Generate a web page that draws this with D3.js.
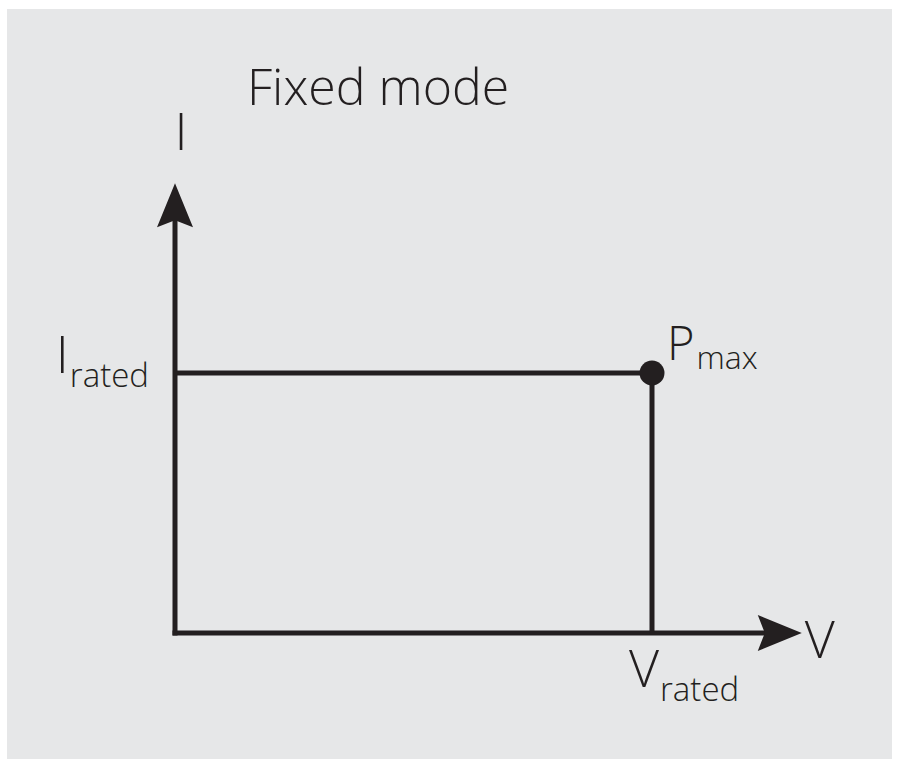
<!DOCTYPE html>
<html>
<head>
<meta charset="utf-8">
<script src="https://cdn.jsdelivr.net/npm/d3@7"></script>
<style>
    html, body { margin: 0; padding: 0; background: #ffffff; }
    text { font-family: "Open Sans", "Liberation Sans", sans-serif; font-weight: 300; fill: #231f20; }
</style>
</head>
<body>
<svg id="chart" width="900" height="768"></svg>
<script>
// rated operating point, normalised units
const ratedVoltage = 1;
const ratedCurrent = 1;
// fixed-mode envelope: zero -> I rated, then down at V rated
const envelope = [
    {v: 0, i: ratedCurrent},
    {v: ratedVoltage, i: ratedCurrent},
    {v: ratedVoltage, i: 0}
];
const axisEnds = {v: 1.314, i: 1.73};
const title = 'Fixed mode';

const ink = '#231f20';
const svg = d3.select('#chart');

svg.append('rect')
    .attr('x', 7).attr('y', 9)
    .attr('width', 885).attr('height', 750)
    .attr('fill', '#e6e7e8');

const x = d3.scaleLinear().domain([0, ratedVoltage]).range([175, 652]);
const y = d3.scaleLinear().domain([0, ratedCurrent]).range([633, 373]);

// notched arrowhead, tip at origin pointing right
function arrowHead(len, half, notch) {
    return `M0,0 L${-len},${-half} L${-len + notch},0 L${-len},${half} Z`;
}

const g = svg.append('g');

// axes
g.append('line')
    .attr('x1', x(0) - 2.5).attr('y1', y(0))
    .attr('x2', x(axisEnds.v) - 30).attr('y2', y(0))
    .attr('stroke', ink).attr('stroke-width', 5);
g.append('line')
    .attr('x1', x(0)).attr('y1', y(0) + 2.5)
    .attr('x2', x(0)).attr('y2', y(axisEnds.i) + 30)
    .attr('stroke', ink).attr('stroke-width', 5);

g.append('path')
    .attr('d', arrowHead(44, 18, 7))
    .attr('transform', `translate(${x(axisEnds.v)},${y(0)})`)
    .attr('fill', ink);
g.append('path')
    .attr('d', arrowHead(44, 18, 7))
    .attr('transform', `translate(${x(0)},${y(axisEnds.i)}) rotate(-90)`)
    .attr('fill', ink);

// envelope
const line = d3.line().x(d => x(d.v)).y(d => y(d.i));
g.append('path')
    .datum(envelope)
    .attr('d', line)
    .attr('fill', 'none')
    .attr('stroke', ink)
    .attr('stroke-width', 5);

g.append('circle')
    .attr('cx', x(ratedVoltage)).attr('cy', y(ratedCurrent))
    .attr('r', 12.5)
    .attr('fill', ink);

// labels
svg.append('text')
    .attr('x', 247).attr('y', 105)
    .attr('font-size', 50)
    .text(title);

svg.append('text')
    .attr('x', x(0) + 6).attr('y', 150)
    .attr('text-anchor', 'middle')
    .attr('font-size', 52)
    .text('I');

svg.append('text')
    .attr('x', x(axisEnds.v) + 18).attr('y', 658)
    .attr('text-anchor', 'middle')
    .attr('font-size', 52)
    .text('V');

function subLabel(px, py, main, sub, anchor, gap) {
    const t = svg.append('text')
        .attr('x', px).attr('y', py)
        .attr('font-size', 52)
        .attr('text-anchor', anchor);
    t.append('tspan').text(main);
    t.append('tspan')
        .attr('font-size', 33)
        .attr('dx', gap)
        .attr('dy', 14)
        .text(sub);
    return t;
}

subLabel(149, y(ratedCurrent), 'I', 'rated', 'end', 1);
subLabel(x(ratedVoltage) - 23, 687, 'V', 'rated', 'start', 1);

const p = svg.append('text')
    .attr('x', 667).attr('y', 360)
    .attr('font-size', 47);
p.append('tspan').text('P');
p.append('tspan')
    .attr('font-size', 32)
    .attr('dx', 2)
    .attr('dy', 9)
    .text('max');
</script>
</body>
</html>
